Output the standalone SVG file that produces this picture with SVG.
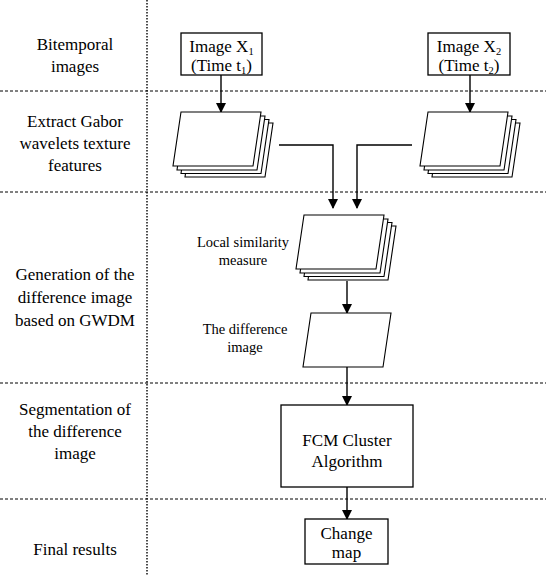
<svg xmlns="http://www.w3.org/2000/svg" width="546" height="576" viewBox="0 0 546 576">
  <style>
    text { font-family: "Liberation Serif", "Times New Roman", "DejaVu Serif", serif; fill: #000; }
    .lbl { font-size: 17px; text-anchor: middle; }
    .side { font-size: 14.5px; text-anchor: middle; }
    .sub { font-size: 10.5px; }
    .box { fill: #fff; stroke: #000; stroke-width: 1.3; }
    .sheet { fill: #fff; stroke: #000; stroke-width: 1.1; }
    .edge { fill: none; stroke: #000; stroke-width: 1.4; }
    .hdash { stroke: #000; stroke-width: 1; stroke-dasharray: 3 2; }
    .vdot { stroke: #000; stroke-width: 1.4; stroke-dasharray: 1.6 1.4; }
  </style>
  <defs>
    <marker id="arrow" markerUnits="userSpaceOnUse" markerWidth="10" markerHeight="12" refX="9" refY="5" orient="auto">
      <path d="M0,0 L10,5 L0,10 Z" fill="#000"/>
    </marker>
    <!-- one sheet of a stack: 80 wide, 54 high, skewed by 8 -->
    <path id="sheet" d="M8,0 H88 L80,54 H0 Z"/>
  </defs>

  <rect width="546" height="576" fill="#fff"/>

  <!-- lane separators -->
  <g id="lanes">
    <line class="vdot" x1="147" y1="0" x2="147" y2="576"/>
    <line class="hdash" x1="0" y1="91" x2="546" y2="91"/>
    <line class="hdash" x1="0" y1="192" x2="546" y2="192"/>
    <line class="hdash" x1="0" y1="383" x2="546" y2="383"/>
    <line class="hdash" x1="0" y1="499" x2="546" y2="499"/>
  </g>

  <!-- stage labels -->
  <g id="stage-labels">
    <text class="lbl" x="75" y="50">Bitemporal</text>
    <text class="lbl" x="75" y="72">images</text>
    <text class="lbl" x="75" y="127">Extract Gabor</text>
    <text class="lbl" x="75" y="149">wavelets texture</text>
    <text class="lbl" x="75" y="171">features</text>
    <text class="lbl" x="75" y="280">Generation of the</text>
    <text class="lbl" x="75" y="303">difference image</text>
    <text class="lbl" x="75" y="326">based on GWDM</text>
    <text class="lbl" x="75" y="415">Segmentation of</text>
    <text class="lbl" x="75" y="437">the difference</text>
    <text class="lbl" x="75" y="459">image</text>
    <text class="lbl" x="75" y="555">Final results</text>
  </g>

  <!-- connectors -->
  <g id="connectors">
    <line class="edge" x1="221" y1="75" x2="221" y2="112" marker-end="url(#arrow)"/>
    <line class="edge" x1="470" y1="75" x2="470" y2="112" marker-end="url(#arrow)"/>
    <polyline class="edge" points="279,145 333,145 333,208" marker-end="url(#arrow)"/>
    <polyline class="edge" points="412,145 357,145 357,208" marker-end="url(#arrow)"/>
    <line class="edge" x1="347" y1="281" x2="347" y2="313" marker-end="url(#arrow)"/>
    <line class="edge" x1="347" y1="367" x2="347" y2="405" marker-end="url(#arrow)"/>
    <line class="edge" x1="347" y1="487" x2="347" y2="519" marker-end="url(#arrow)"/>
  </g>

  <!-- input images -->
  <g id="image-x1">
    <rect class="box" x="181" y="33" width="81" height="42"/>
    <text class="lbl" x="221.5" y="52">Image X<tspan class="sub" dy="2.5">1</tspan></text>
    <text class="lbl" x="221.5" y="71">(Time t<tspan class="sub" dy="2.5">1</tspan><tspan dy="-2.5">)</tspan></text>
  </g>
  <g id="image-x2">
    <rect class="box" x="428" y="33" width="82" height="42"/>
    <text class="lbl" x="469" y="52">Image X<tspan class="sub" dy="2.5">2</tspan></text>
    <text class="lbl" x="469" y="71">(Time t<tspan class="sub" dy="2.5">2</tspan><tspan dy="-2.5">)</tspan></text>
  </g>

  <!-- Gabor feature stacks -->
  <g id="features-1">
    <use href="#sheet" class="sheet" x="185" y="123"/>
    <use href="#sheet" class="sheet" x="181" y="119.5"/>
    <use href="#sheet" class="sheet" x="177" y="116"/>
    <use href="#sheet" class="sheet" x="173" y="112"/>
  </g>
  <g id="features-2">
    <use href="#sheet" class="sheet" x="432" y="123"/>
    <use href="#sheet" class="sheet" x="428" y="119.5"/>
    <use href="#sheet" class="sheet" x="424" y="116"/>
    <use href="#sheet" class="sheet" x="420" y="112"/>
  </g>

  <!-- local similarity measure stack -->
  <g id="similarity">
    <use href="#sheet" class="sheet" x="308" y="226"/>
    <use href="#sheet" class="sheet" x="304" y="222.5"/>
    <use href="#sheet" class="sheet" x="300" y="219"/>
    <use href="#sheet" class="sheet" x="296" y="215"/>
    <text class="side" x="243" y="247">Local similarity</text>
    <text class="side" x="243" y="265">measure</text>
  </g>

  <!-- difference image -->
  <g id="difference">
    <use href="#sheet" class="sheet" x="303" y="313"/>
    <text class="side" x="245" y="334">The difference</text>
    <text class="side" x="245" y="352">image</text>
  </g>

  <!-- clustering -->
  <g id="fcm">
    <rect class="box" x="281" y="405" width="132" height="82"/>
    <text class="lbl" x="347" y="446">FCM Cluster</text>
    <text class="lbl" x="347" y="467">Algorithm</text>
  </g>

  <!-- result -->
  <g id="change-map">
    <rect class="box" x="305" y="519" width="83" height="45"/>
    <text class="lbl" x="346.5" y="539">Change</text>
    <text class="lbl" x="346.5" y="558">map</text>
  </g>
</svg>
